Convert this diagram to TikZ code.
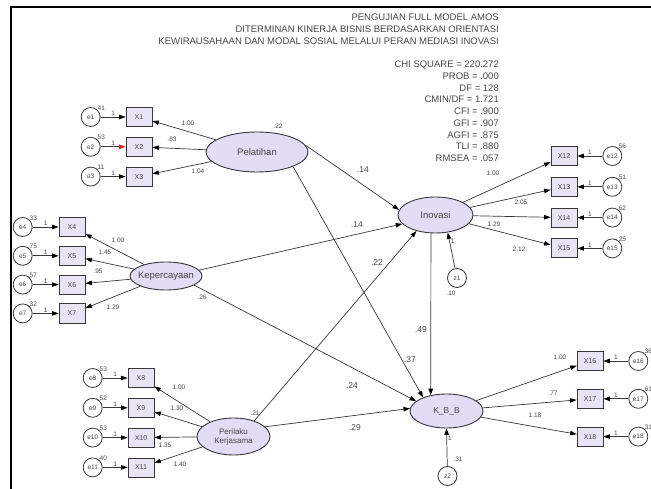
\documentclass[tikz,border=0pt]{standalone}
\usepackage{fontspec}
\setmainfont{Liberation Sans}
\usepackage{tikz}
\usetikzlibrary{arrows.meta,shapes,positioning}
\usepackage{xcolor}
\definecolor{amosline}{RGB}{55,55,60}
\definecolor{amoslav}{RGB}{226,220,245}
\definecolor{amosbox}{RGB}{232,228,246}
\definecolor{amosred}{RGB}{225,30,30}
\definecolor{amostext}{RGB}{70,70,70}
\tikzstyle{arrow} = [-{Triangle[length=6.5pt,width=4.5pt,color=black]}, line width=0.7pt, draw=amosline]
\tikzstyle{latent} = [ellipse, draw=amosline, fill=amoslav, line width=0.9pt, inner sep=0pt, inner xsep=-6pt, text=amostext, font=\fontsize{9.5}{10}\selectfont]
\tikzstyle{indicator} = [rectangle, draw=amosline, fill=amosbox, line width=0.8pt, minimum width=26pt, minimum height=19pt, inner sep=0pt, text=amostext, font=\fontsize{7}{8}\selectfont]
\tikzstyle{errterm} = [circle, draw=amosline, fill=white, line width=0.8pt, minimum size=19pt, inner sep=0pt, text=amostext, font=\fontsize{6.5}{7}\selectfont]
\tikzstyle{coef} = [inner sep=1pt, text=amostext, font=\fontsize{6.5}{7}\selectfont]
\tikzstyle{pathcoef} = [inner sep=1pt, text=amostext, font=\fontsize{8.5}{9}\selectfont]
\tikzstyle{heading} = [align=right, inner sep=0pt, text=amostext, font=\fontsize{9.5}{11.7}\selectfont]

\begin{document}
\begin{tikzpicture}[x=1pt, y=-1pt]
\useasboundingbox (0,0) rectangle (651,489);
% frame
\draw[line width=2pt] (11,489) -- (11,7) -- (651,7);

% heading and fit
\node (title) [heading, anchor=north east] at (499,14) {PENGUJIAN FULL MODEL AMOS\\DITERMINAN KINERJA BISNIS BERDASARKAN ORIENTASI\\KEWIRAUSAHAAN DAN MODAL SOSIAL MELALUI PERAN MEDIASI INOVASI};
\node (fit) [heading, anchor=north east] at (499,61) {CHI SQUARE = 220.272\\PROB = .000\\DF = 128\\CMIN/DF = 1.721\\CFI = .900\\GFI = .907\\AGFI = .875\\TLI = .880\\RMSEA = .057};

% latent variables
\node (pel) [latent, minimum width=102pt, minimum height=40pt] at (257,152) {Pelatihan};
\node (kep) [latent, minimum width=72pt, minimum height=28pt] at (166,276) {Kepercayaan};
\node (per) [latent, minimum width=73pt, minimum height=37pt, align=center, font=\fontsize{8}{9}\selectfont] at (233.5,436.5) {Perilaku\\Kerjasama};
\node (ino) [latent, minimum width=75pt, minimum height=36pt] at (435.5,215) {Inovasi};
\node (kbb) [latent, minimum width=73pt, minimum height=34pt, font=\fontsize{8.5}{9}\selectfont] at (446.5,411) {K\_B\_B};
\node (z1) [errterm] at (457,278) {z1};
\node (z2) [errterm] at (447.5,476) {z2};

% Pelatihan indicators
\node (x1) [indicator] at (139,117) {X1};
\node (x2) [indicator, below=10pt of x1] {X2};
\node (x3) [indicator, below=10pt of x2] {X3};
\node (e1) [errterm, left=25pt of x1, label={[coef, label distance=-3pt]55:.41}] {e1};
\node (e2) [errterm, left=25pt of x2, label={[coef, label distance=-3pt]55:.53}] {e2};
\node (e3) [errterm, left=25pt of x3, label={[coef, label distance=-3pt]55:.11}] {e3};

% Kepercayaan indicators
\node (x4) [indicator] at (72,227) {X4};
\node (x5) [indicator, below=9pt of x4] {X5};
\node (x6) [indicator, below=9pt of x5] {X6};
\node (x7) [indicator, below=9pt of x6] {X7};
\node (e4) [errterm, left=26pt of x4, label={[coef, label distance=-3pt]55:.33}] {e4};
\node (e5) [errterm, left=26pt of x5, label={[coef, label distance=-3pt]55:.75}] {e5};
\node (e6) [errterm, left=26pt of x6, label={[coef, label distance=-3pt]55:.57}] {e6};
\node (e7) [errterm, left=26pt of x7, label={[coef, label distance=-3pt]55:.32}] {e7};

% Perilaku Kerjasama indicators
\node (x8) [indicator] at (141,378) {X8};
\node (x9) [indicator, below=10pt of x8] {X9};
\node (x10) [indicator, below=10pt of x9] {X10};
\node (x11) [indicator, below=10pt of x10] {X11};
\node (e8) [errterm, left=25pt of x8, label={[coef, label distance=-3pt]55:.53}] {e8};
\node (e9) [errterm, left=25pt of x9, label={[coef, label distance=-3pt]55:.52}] {e9};
\node (e10) [errterm, left=25pt of x10, label={[coef, label distance=-3pt]55:.53}] {e10};
\node (e11) [errterm, left=25pt of x11, label={[coef, label distance=-3pt]55:.40}] {e11};

% Inovasi indicators
\node (x12) [indicator] at (564,156) {X12};
\node (x13) [indicator, below=11pt of x12] {X13};
\node (x14) [indicator, below=11pt of x13] {X14};
\node (x15) [indicator, below=11pt of x14] {X15};
\node (e12) [errterm, right=25pt of x12, label={[coef, label distance=-3pt]60:.56}] {e12};
\node (e13) [errterm, right=25pt of x13, label={[coef, label distance=-3pt]60:.51}] {e13};
\node (e14) [errterm, right=25pt of x14, label={[coef, label distance=-3pt]60:.62}] {e14};
\node (e15) [errterm, right=25pt of x15, label={[coef, label distance=-3pt]60:.25}] {e15};

% K_B_B indicators
\node (x16) [indicator] at (590,361) {X16};
\node (x17) [indicator, below=18pt of x16] {X17};
\node (x18) [indicator, below=18pt of x17] {X18};
\node (e16) [errterm, right=25pt of x16, label={[coef, label distance=-3pt]60:.36}] {e16};
\node (e17) [errterm, right=25pt of x17, label={[coef, label distance=-3pt]60:.61}] {e17};
\node (e18) [errterm, right=25pt of x18, label={[coef, label distance=-3pt]60:.31}] {e18};

% measurement paths
\draw[arrow] (pel) -- (x1);
\draw[arrow] (pel) -- (x2);
\draw[arrow] (pel) -- (x3);
\draw[arrow] (kep) -- (x4);
\draw[arrow] (kep) -- (x5);
\draw[arrow] (kep) -- (x6);
\draw[arrow] (kep) -- (x7);
\draw[arrow] (per) -- (x8);
\draw[arrow] (per) -- (x9);
\draw[arrow] (per) -- (x10);
\draw[arrow] (per) -- (x11);
\draw[arrow] (ino) -- (x12);
\draw[arrow] (ino) -- (x13);
\draw[arrow] (ino) -- (x14);
\draw[arrow] (ino) -- (x15);
\draw[arrow] (kbb) -- (x16);
\draw[arrow] (kbb) -- (x17);
\draw[arrow] (kbb) -- (x18);

% error terms
\draw[arrow] (e1) -- node[coef, above] {1} (x1);
\draw[arrow, -{Triangle[length=6.5pt,width=4.5pt,color=amosred]}] (e2) -- node[coef, above] {1} (x2);
\draw[arrow] (e3) -- node[coef, above] {1} (x3);
\draw[arrow] (e4) -- node[coef, above] {1} (x4);
\draw[arrow] (e5) -- node[coef, above] {1} (x5);
\draw[arrow] (e6) -- node[coef, above] {1} (x6);
\draw[arrow] (e7) -- node[coef, above] {1} (x7);
\draw[arrow] (e8) -- node[coef, above] {1} (x8);
\draw[arrow] (e9) -- node[coef, above] {1} (x9);
\draw[arrow] (e10) -- node[coef, above] {1} (x10);
\draw[arrow] (e11) -- node[coef, above] {1} (x11);
\draw[arrow] (e12) -- node[coef, above] {1} (x12);
\draw[arrow] (e13) -- node[coef, above] {1} (x13);
\draw[arrow] (e14) -- node[coef, above] {1} (x14);
\draw[arrow] (e15) -- node[coef, above] {1} (x15);
\draw[arrow] (e16) -- node[coef, above] {1} (x16);
\draw[arrow] (e17) -- node[coef, above] {1} (x17);
\draw[arrow] (e18) -- node[coef, above] {1} (x18);
\draw[arrow] (z1) -- node[coef, right, pos=0.75] {1} (ino.-55);
\draw[arrow] (z2) -- node[coef, right, pos=0.75] {1} (kbb.south);

% structural paths
\draw[arrow] (pel.8) -- (ino.172);
\draw[arrow] (pel.-22) -- (kbb.150);
\draw[arrow] (kep.10) -- (ino.195);
\draw[arrow] (kep.-18) -- (kbb.162);
\draw[arrow] (per.37) -- (ino.220);
\draw[arrow] (per.17) -- (kbb.176);
\draw[arrow] (ino.256) -- (kbb.135);

% loadings
\node (lx1) [coef] at (188,123) {1.00};
\node (lx2) [coef] at (172,139) {.83};
\node (lx3) [coef] at (198,171) {1.04};
\node (lx4) [coef] at (118,240) {1.00};
\node (lx5) [coef] at (105,252) {1.45};
\node (lx6) [coef] at (98,271) {.95};
\node (lx7) [coef] at (113,307) {1.29};
\node (lx8) [coef] at (179,387) {1.00};
\node (lx9) [coef] at (177,408) {1.30};
\node (lx10) [coef] at (165,445) {1.35};
\node (lx11) [coef] at (180,464) {1.40};
\node (lx12) [coef] at (493,173) {1.00};
\node (lx13) [coef] at (521,202) {2.05};
\node (lx14) [coef] at (494,224) {1.29};
\node (lx15) [coef] at (519,249) {2.12};
\node (lx16) [coef] at (560,357) {1.00};
\node (lx17) [coef] at (553,393) {.77};
\node (lx18) [coef] at (535,415) {1.18};

% path coefficients and variances
\node (c1) [pathcoef] at (363,170) {.14};
\node (c2) [pathcoef] at (357,225) {.14};
\node (c3) [pathcoef] at (377,263) {.22};
\node (c4) [pathcoef] at (421,330) {.49};
\node (c5) [pathcoef] at (410,360) {.37};
\node (c6) [pathcoef] at (352,386) {.24};
\node (c7) [pathcoef] at (355,428) {.29};
\node (vpel) [coef] at (278,126) {.22};
\node (vkep) [coef] at (202,297) {.26};
\node (vper) [coef] at (255,413) {.21};
\node (vz1) [coef] at (451,293) {.10};
\node (vz2) [coef] at (458,459) {.31};
\end{tikzpicture}
\end{document}
